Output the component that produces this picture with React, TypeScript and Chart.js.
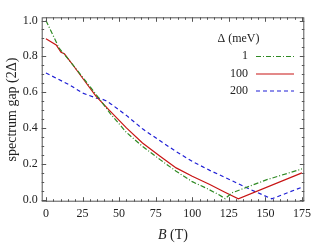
import React, { useEffect, useRef } from "react";
import { Chart, registerables } from "chart.js";

Chart.register(...registerables);

// ---- data ----
const seriesLabels = ["1", "100", "200"];
const legendTitle = "Δ (meV)";
const xTitleItalic = "B";
const xTitleRest = " (T)";
const yTitle = "spectrum gap (2Δ)";

const b1 = [0, 9, 18, 30, 37, 44, 55, 66, 78, 89, 100, 110, 118, 122.5, 127, 151, 175];
const gap1 = [1.0, 0.846, 0.757, 0.632, 0.558, 0.48, 0.375, 0.297, 0.223, 0.158, 0.1, 0.062, 0.028, 0.005, 0.037, 0.111, 0.171];

const b100 = [0, 7, 10.3, 12.6, 18.3, 27.5, 34.3, 43.4, 55, 66, 78, 89, 100, 112, 122, 131.5, 175];
const gap100 = [0.898, 0.864, 0.823, 0.814, 0.753, 0.651, 0.576, 0.498, 0.4, 0.316, 0.242, 0.177, 0.13, 0.084, 0.042, 0.004, 0.149];

const b200 = [0, 16, 25, 34.3, 37, 41, 44.6, 55, 66, 78, 89, 100, 112, 128, 140, 154.4, 175];
const gap200 = [0.707, 0.641, 0.595, 0.567, 0.565, 0.552, 0.533, 0.47, 0.395, 0.328, 0.268, 0.213, 0.163, 0.102, 0.055, 0.004, 0.069];

const xTicks = [0, 25, 50, 75, 100, 125, 150, 175];
const yTicks = [0, 0.2, 0.4, 0.6, 0.8, 1.0];
const xMinorStep = 5;
const yMinorStep = 0.05;

const colors = ["#2f8a24", "#c81414", "#1f1fd6"];
const dashes = [[5, 2, 1, 2], [], [4, 3]];

const toPoints = (xs: number[], ys: number[]) => xs.map((x, i) => ({ x, y: ys[i] }));

const SERIF = "'Liberation Serif', 'DejaVu Serif', serif";

const framePlugin = {
  id: "mmaFrame",
  afterDatasetsDraw(chart: any) {
    const { ctx, chartArea } = chart;
    const xs = chart.scales.x;
    const ys = chart.scales.y;
    const { left, right, top, bottom } = chartArea;
    ctx.save();
    // frame
    ctx.strokeStyle = "#555";
    ctx.lineWidth = 1;
    ctx.setLineDash([]);
    ctx.strokeRect(left + 0.5, top + 0.5, right - left - 1, bottom - top - 1);
    // ticks
    const majLen = 4.5;
    const minLen = 2.5;
    ctx.beginPath();
    const xStart = xTicks[0];
    const xEnd = xTicks[xTicks.length - 1];
    for (let v = xStart; v <= xEnd + 1e-9; v += xMinorStep) {
      const isMajor = xTicks.some((t) => Math.abs(t - v) < 1e-6);
      const len = isMajor ? majLen : minLen;
      const px = Math.round(xs.getPixelForValue(v)) + 0.5;
      ctx.moveTo(px, bottom);
      ctx.lineTo(px, bottom - len);
      ctx.moveTo(px, top);
      ctx.lineTo(px, top + len);
    }
    for (let v = yTicks[0]; v <= yTicks[yTicks.length - 1] + 1e-9; v += yMinorStep) {
      const isMajor = yTicks.some((t) => Math.abs(t - v) < 1e-6);
      const len = isMajor ? majLen : minLen;
      const py = Math.round(ys.getPixelForValue(v)) + 0.5;
      ctx.moveTo(left, py);
      ctx.lineTo(left + len, py);
      ctx.moveTo(right, py);
      ctx.lineTo(right - len, py);
    }
    ctx.stroke();

    // tick labels
    ctx.fillStyle = "#222";
    ctx.font = `12px ${SERIF}`;
    ctx.textAlign = "center";
    ctx.textBaseline = "middle";
    xTicks.forEach((t) => {
      ctx.fillText(String(t), xs.getPixelForValue(t), bottom + 12);
    });
    ctx.textAlign = "right";
    yTicks.forEach((t) => {
      ctx.fillText(t.toFixed(1), left - 4, ys.getPixelForValue(t));
    });

    // axis titles
    ctx.textBaseline = "middle";
    const italicFont = `italic 14px ${SERIF}`;
    ctx.font = italicFont;
    const wB = ctx.measureText(xTitleItalic).width;
    ctx.font = `14px ${SERIF}`;
    const wR = ctx.measureText(xTitleRest).width;
    const cx = (left + right) / 2;
    const ty = bottom + 34;
    ctx.textAlign = "left";
    ctx.font = italicFont;
    ctx.fillText(xTitleItalic, cx - (wB + wR) / 2, ty);
    ctx.font = `14px ${SERIF}`;
    ctx.fillText(xTitleRest, cx - (wB + wR) / 2 + wB, ty);

    ctx.save();
    ctx.translate(12, (top + bottom) / 2);
    ctx.rotate(-Math.PI / 2);
    ctx.textAlign = "center";
    ctx.fillText(yTitle, 0, 0);
    ctx.restore();

    // legend
    ctx.font = `12px ${SERIF}`;
    ctx.textAlign = "center";
    ctx.fillText(legendTitle, 238.5, 39);
    const rowsY = [56, 73.5, 90.5];
    seriesLabels.forEach((lab, i) => {
      ctx.textAlign = "right";
      ctx.fillStyle = "#222";
      ctx.fillText(lab, 248, rowsY[i]);
      ctx.beginPath();
      ctx.strokeStyle = colors[i];
      ctx.lineWidth = 1.2;
      ctx.setLineDash(dashes[i]);
      ctx.moveTo(256, rowsY[i] + 0.5);
      ctx.lineTo(294, rowsY[i] + 0.5);
      ctx.stroke();
    });
    ctx.restore();
  },
};

export default function App() {
  const ref = useRef<HTMLCanvasElement | null>(null);
  useEffect(() => {
    if (!ref.current) return;
    const datasets = [
      toPoints(b1, gap1),
      toPoints(b100, gap100),
      toPoints(b200, gap200),
    ].map((data, i) => ({
      label: seriesLabels[i],
      data,
      showLine: true,
      borderColor: colors[i],
      borderWidth: 1.2,
      borderDash: dashes[i],
      pointRadius: 0,
      tension: 0,
      fill: false,
    }));
    const chart = new Chart(ref.current, {
      type: "scatter",
      data: { datasets },
      options: {
        animation: false,
        responsive: false,
        maintainAspectRatio: false,
        layout: { padding: { left: 41.7, right: 7.7, top: 17.3, bottom: 41.3 } },
        plugins: { legend: { display: false }, tooltip: { enabled: false } },
        scales: {
          x: { type: "linear", display: false, min: -2.9, max: 176.6 },
          y: { type: "linear", display: false, min: -0.012, max: 1.018 },
        },
      },
      plugins: [framePlugin],
    });
    return () => chart.destroy();
  }, []);
  return (
    <div style={{ position: "absolute", left: 0, top: 0, width: 312, height: 243, background: "#fff" }}>
      <canvas ref={ref} width={312} height={243} style={{ width: 312, height: 243 }} />
    </div>
  );
}
